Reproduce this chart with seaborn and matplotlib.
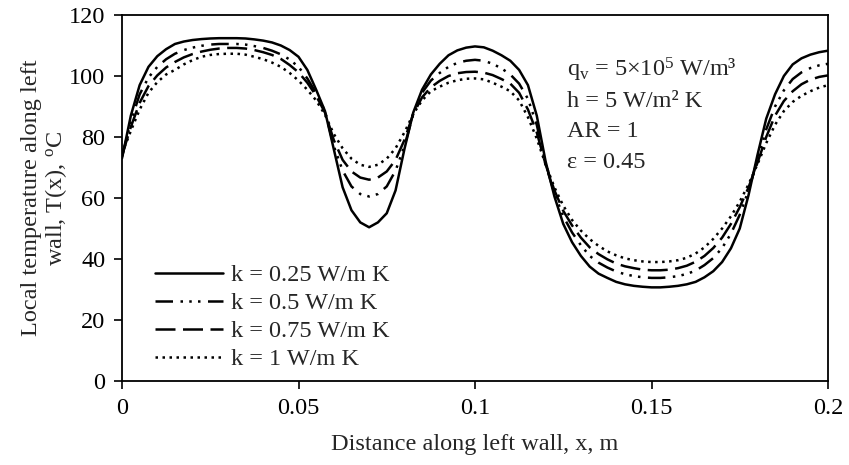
import numpy as np
import pandas as pd
import matplotlib
matplotlib.use("Agg")
import matplotlib.pyplot as plt
import seaborn as sns

# Sampling positions along the left wall (m)
x_pos = np.linspace(0.0, 0.2, 81)

# Local wall temperature T(x) in degC for each thermal conductivity
T_k025 = [
    73.0, 87.0, 97.0, 103.0, 106.5, 108.8, 110.5, 111.3, 111.8, 112.1,
    112.3, 112.4, 112.4, 112.4, 112.3, 112.0, 111.6, 111.0, 110.0, 108.5,
    106.3, 102.0, 95.5, 88.5, 76.0, 63.5, 56.0, 52.0, 50.4, 52.0,
    55.0, 62.5, 76.0, 88.0, 95.5, 100.5, 104.0, 106.8, 108.4, 109.3,
    109.7, 109.4, 108.3, 106.8, 105.0, 102.0, 97.0, 87.0, 72.0, 60.5,
    51.5, 45.5, 41.0, 37.5, 35.2, 33.8, 32.5, 31.7, 31.2, 30.9,
    30.7, 30.7, 30.9, 31.2, 31.7, 32.5, 34.0, 36.0, 39.0, 43.5,
    50.0, 61.0, 74.0, 86.0, 94.0, 100.0, 103.8, 105.8, 107.0, 107.8,
    108.3,
]
T_k05 = [
    73.5, 85.0, 94.0, 99.5, 103.0, 105.5, 107.3, 108.5, 109.3, 109.9,
    110.3, 110.5, 110.5, 110.5, 110.3, 109.8, 109.2, 108.3, 107.1, 105.4,
    103.0, 99.2, 94.4, 88.5, 77.0, 69.0, 63.8, 61.3, 60.5, 61.3,
    63.8, 69.0, 77.0, 87.5, 94.5, 98.5, 101.0, 103.0, 104.3, 105.0,
    105.3, 105.0, 104.0, 102.5, 100.5, 97.5, 92.5, 84.0, 71.0, 61.5,
    54.0, 48.7, 44.5, 41.0, 38.8, 37.2, 35.9, 35.0, 34.4, 34.0,
    33.8, 33.8, 34.0, 34.4, 35.1, 36.2, 38.0, 40.3, 43.6, 48.3,
    54.5, 62.5, 72.5, 82.5, 90.0, 95.3, 99.0, 101.2, 102.6, 103.5,
    104.0,
]
T_k075 = [
    74.0, 83.3, 91.2, 96.7, 100.2, 102.8, 104.6, 106.1, 107.2, 108.0,
    108.6, 109.0, 109.2, 109.2, 109.0, 108.5, 107.8, 106.9, 105.6, 103.6,
    101.2, 97.8, 93.5, 88.0, 79.0, 72.5, 68.7, 66.7, 66.0, 66.7,
    68.7, 72.5, 79.0, 87.5, 93.0, 96.3, 98.4, 100.0, 100.9, 101.3,
    101.4, 101.1, 100.3, 99.0, 97.5, 94.5, 89.0, 81.5, 71.0, 62.5,
    55.8, 51.0, 47.0, 43.8, 41.6, 39.9, 38.5, 37.6, 37.0, 36.5,
    36.3, 36.3, 36.5, 37.0, 37.8, 39.1, 41.0, 43.6, 47.0, 51.5,
    57.0, 63.5, 71.5, 80.0, 87.0, 91.8, 95.0, 97.3, 98.8, 99.7,
    100.2,
]
T_k1 = [
    74.5, 82.0, 89.0, 94.5, 98.0, 100.5, 102.0, 103.8, 105.2, 106.3,
    106.9, 107.2, 107.3, 107.3, 107.0, 106.3, 105.5, 104.4, 103.0, 101.0,
    98.5, 95.5, 92.0, 87.3, 81.0, 76.3, 72.9, 70.9, 70.2, 70.9,
    72.9, 76.3, 81.5, 87.5, 92.0, 95.0, 96.5, 97.8, 98.6, 99.1,
    99.2, 98.9, 97.8, 96.5, 95.0, 92.0, 86.5, 79.5, 71.0, 63.5,
    57.5, 52.8, 49.3, 46.5, 44.3, 42.5, 41.2, 40.2, 39.6, 39.2,
    39.0, 39.0, 39.2, 39.6, 40.4, 41.8, 43.8, 46.6, 50.0, 54.0,
    58.8, 64.5, 71.0, 78.0, 84.0, 88.5, 91.5, 93.5, 95.0, 96.2,
    97.0,
]

series_labels = ["k = 0.25 W/m K", "k = 0.5 W/m K", "k = 0.75 W/m K", "k = 1 W/m K"]
series_values = [T_k025, T_k05, T_k075, T_k1]

x_ticks = [0, 0.05, 0.1, 0.15, 0.2]
x_tick_labels = ["0", "0.05", "0.1", "0.15", "0.2"]
y_ticks = [0, 20, 40, 60, 80, 100, 120]

annotation_lines = [
    r"q$_{\rm v}$ = 5×10$^{5}$ W/m³",
    "h = 5 W/m² K",
    "AR = 1",
    "ε = 0.45",
]
annotation_y = [100, 90, 80, 70]

df = pd.concat(
    [pd.DataFrame({"x": x_pos, "T": vals, "k": lab})
     for lab, vals in zip(series_labels, series_values)],
    ignore_index=True,
)

sns.set_style("ticks")
plt.rcParams["font.family"] = ["Liberation Serif", "DejaVu Serif"]
plt.rcParams["mathtext.fontset"] = "custom"
plt.rcParams["mathtext.rm"] = "Liberation Serif"
plt.rcParams["mathtext.it"] = "Liberation Serif:italic"
plt.rcParams["lines.solid_joinstyle"] = "round"
plt.rcParams["lines.dash_joinstyle"] = "round"
FS = 17.5

line_dashes = {
    series_labels[0]: "",
    series_labels[1]: (7, 3, 1, 2.5, 1, 2.5, 1, 3),
    series_labels[2]: (8, 3),
    series_labels[3]: (1, 1.8),
}

fig = plt.figure(figsize=(8.49, 4.65), dpi=100)
ax = fig.add_axes([122 / 849, 1 - 381 / 465, 706 / 849, 366 / 465])

sns.lineplot(
    data=df, x="x", y="T", style="k", dashes=line_dashes,
    color="black", linewidth=1.8, ax=ax, legend=True, sort=False,
)

ax.set_xlim(0, 0.2)
ax.set_ylim(0, 120)
ax.set_xticks(x_ticks)
ax.set_xticklabels(x_tick_labels)
ax.set_yticks(y_ticks)
ax.tick_params(direction="out", length=6, width=1.2, colors="black",
               labelsize=FS, pad=6)
for sp in ax.spines.values():
    sp.set_visible(True)
    sp.set_color("black")
    sp.set_linewidth(1.3)

ax.set_xlabel("Distance along left wall, x, m", fontsize=FS, labelpad=11)
ax.set_ylabel("Local temperature along left\nwall, T(x), $^{\\rm o}$C",
              fontsize=FS, multialignment="center", linespacing=1.05)
ax.yaxis.set_label_coords(-0.075, 0.5)

for txt, yv in zip(annotation_lines, annotation_y):
    ax.text(0.126, yv, txt, fontsize=FS, va="baseline", ha="left")

leg = ax.legend(
    loc="center left", bbox_to_anchor=(0.047, 0.174), frameon=False,
    fontsize=FS, handlelength=2.8, handletextpad=0.3, labelspacing=0.25,
    borderpad=0, borderaxespad=0, title=None,
)
for h in leg.get_lines():
    h.set_linewidth(1.8)

fig.savefig("out.png", dpi=100, facecolor="white")
